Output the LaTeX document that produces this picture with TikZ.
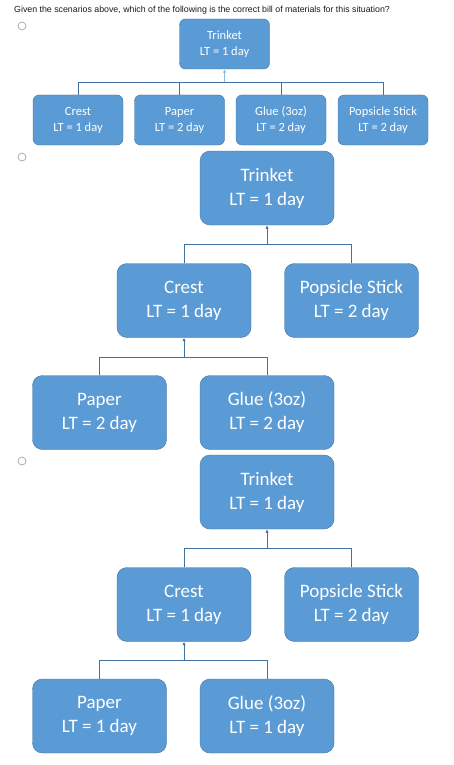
\documentclass[tikz,border=0pt]{standalone}
\usepackage{fontspec}
\setmainfont{Liberation Sans}
\newfontfamily\boxfont{Carlito}
\usetikzlibrary{arrows.meta}
\providecommand{\Body}{5B9BD5}
\providecommand{\Rim}{41719C}
\providecommand{\Ring}{A6A6A6}
\newcommand{\RadioR}{4}
\definecolor{partfill}{HTML}{\Body}
\definecolor{partrim}{HTML}{\Rim}
\definecolor{ring}{HTML}{\Ring}
\definecolor{ink}{HTML}{1A1A1A}

\tikzset{
  smallpart/.style={draw=partrim, fill=partfill, rounded corners=6, text=white,
    align=center, inner sep=0, minimum width=90, minimum height=50,
    font=\boxfont\fontsize{12.5}{16}\selectfont},
  bigpart/.style={smallpart, rounded corners=10, minimum width=134, minimum height=74,
    font=\boxfont\fontsize{19}{24}\selectfont},
  link/.style={draw=partrim, line width=0.8pt},
  feed/.style={link, -{Latex[length=3.5pt,width=3.5pt]}},
  radio/.style={draw=ring, fill=white, line width=0.7pt}
}

\begin{document}
\begin{tikzpicture}[x=1pt, y=-1pt, line join=round]
  \useasboundingbox (0,0) rectangle (454,765);

  % ---- question and radio buttons ----------------------------------------
  \node[anchor=west, inner sep=0, text=ink, font=\fontsize{8.8}{10}\selectfont] (question) at (14,10)
    {Given the scenarios above, which of the following is the correct bill of materials for this situation?};
  \foreach \y in {26,157,461} {
    \draw[radio] (22,\y) circle (\RadioR);
  }

  % ---- option one: flat tree ----------------------------------------------
  \node[smallpart] (trinketA) at (224.5,44) {Trinket\\LT = 1 day};
  \foreach \x/\name/\part/\lt in {78/crestA/Crest/1, 179.5/paperA/Paper/2,
                                  281/glueA/Glue (3oz)/2, 383/stickA/Popsicle Stick/2} {
    \node[smallpart] (\name) at (\x,120) {\part\\LT = \lt{} day};
  }
  \coordinate (busA) at (224.5,82);
  \foreach \c in {crestA,paperA,glueA,stickA} {
    \draw[link] (\c.north) |- (busA);
  }
  \draw[feed, draw=partfill!70] (busA) -- (trinketA.south);

  % ---- option two ---------------------------------------------------------
  \node[bigpart] (trinketB) at (267,188)   {Trinket\\LT = 1 day};
  \node[bigpart] (crestB)   at (184,300.5) {Crest\\LT = 1 day};
  \node[bigpart] (stickB)   at (351.5,300.5) {Popsicle Stick\\LT = 2 day};
  \node[bigpart] (paperB)   at (99.5,412.5) {Paper\\LT = 2 day};
  \node[bigpart] (glueB)    at (267,412.5) {Glue (3oz)\\LT = 2 day};
  \coordinate (busB) at (267,244);
  \coordinate (busC) at (184,357);
  \draw[link] (crestB.north) |- (busB);
  \draw[link] (stickB.north) |- (busB);
  \draw[feed] (busB) -- (trinketB.south);
  \draw[link] (paperB.north) |- (busC);
  \draw[link] (glueB.north) |- (busC);
  \draw[feed] (busC) -- (crestB.south);

  % ---- option three -------------------------------------------------------
  \node[bigpart] (trinketC) at (267,492)   {Trinket\\LT = 1 day};
  \node[bigpart] (crestC)   at (184,604.5) {Crest\\LT = 1 day};
  \node[bigpart] (stickC)   at (351.5,604.5) {Popsicle Stick\\LT = 2 day};
  \node[bigpart] (paperC)   at (99.5,716) {Paper\\LT = 1 day};
  \node[bigpart] (glueC)    at (267,716) {Glue (3oz)\\LT = 1 day};
  \coordinate (busD) at (267,548);
  \coordinate (busE) at (184,660);
  \draw[link] (crestC.north) |- (busD);
  \draw[link] (stickC.north) |- (busD);
  \draw[feed] (busD) -- (trinketC.south);
  \draw[link] (paperC.north) |- (busE);
  \draw[link] (glueC.north) |- (busE);
  \draw[feed] (busE) -- (crestC.south);

\end{tikzpicture}
\end{document}
